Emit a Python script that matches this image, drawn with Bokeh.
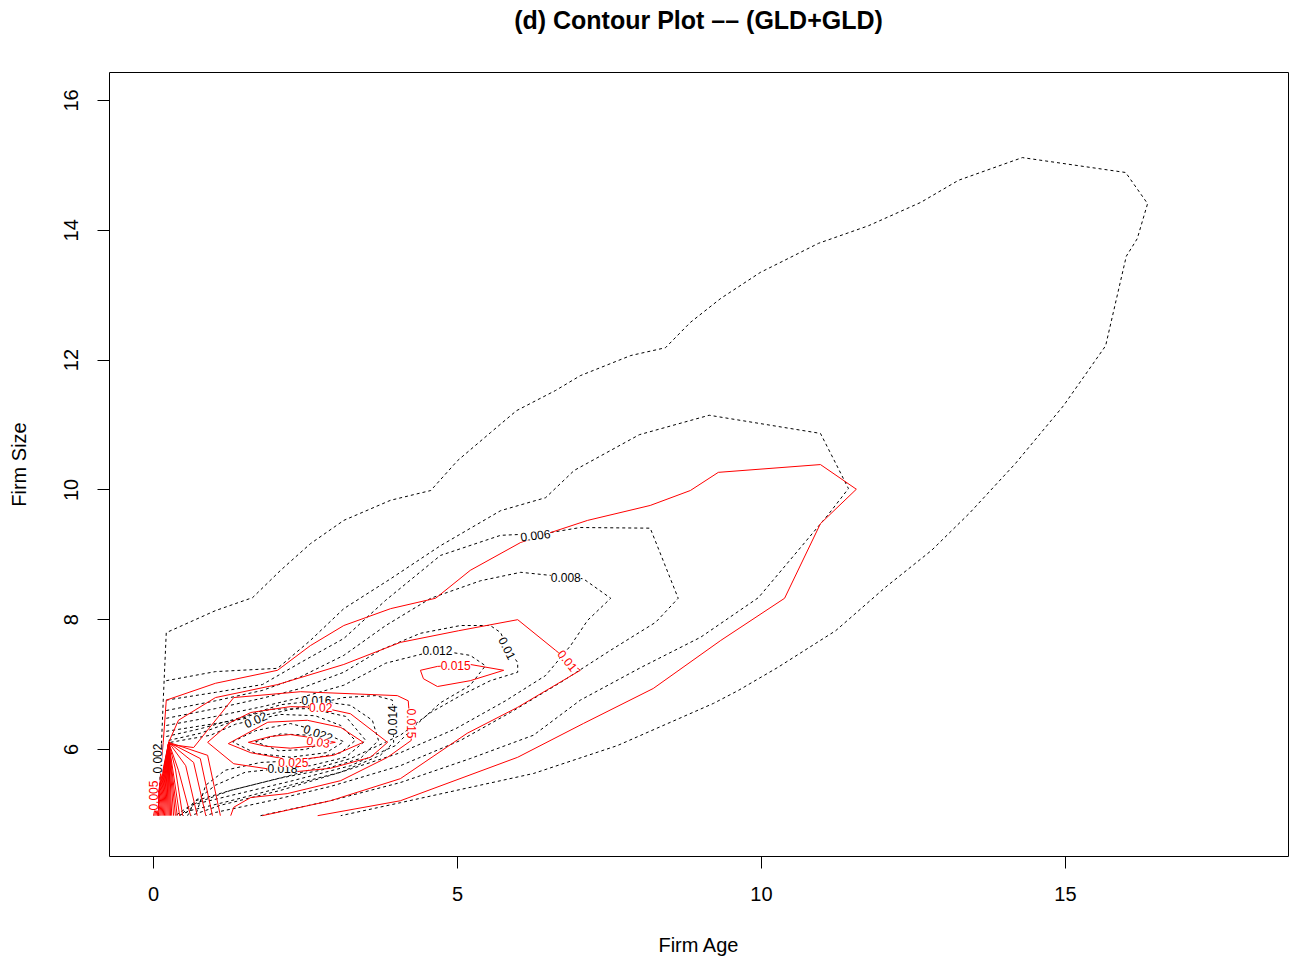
from bokeh.plotting import figure
from bokeh.models import Range1d, FixedTicker, Div
from bokeh.layouts import column
from bokeh.embed import file_html
from bokeh.resources import INLINE
from bokeh.core.properties import value

FONT = "Liberation Sans"

# ---------------- black dashed contours (empirical density) ----------------
b002_x = [0.08, 0.12, 0.16, 0.21, 1.02, 1.63, 2.09, 2.58, 3.13, 3.90, 4.56, 5.00, 5.54, 5.97, 6.61, 7.02, 7.85, 8.42, 8.83, 9.33, 9.98, 10.94, 11.76, 12.62, 13.24, 14.29, 15.99, 16.35, 16.18, 16.00, 15.66, 14.97, 14.18, 13.42, 12.80, 12.04, 11.22, 10.26, 9.62, 9.21, 7.63, 6.25, 4.06, 3.08]
b002_y = [4.98, 5.83, 6.75, 7.80, 8.14, 8.34, 8.76, 9.17, 9.53, 9.84, 9.99, 10.45, 10.88, 11.22, 11.53, 11.76, 12.07, 12.19, 12.58, 12.95, 13.35, 13.80, 14.07, 14.43, 14.77, 15.12, 14.89, 14.41, 13.87, 13.60, 12.22, 11.30, 10.41, 9.64, 9.07, 8.50, 7.83, 7.26, 6.91, 6.71, 6.06, 5.63, 5.18, 4.98]

b004_x = [0.21, 1.02, 2.04, 2.58, 3.13, 3.90, 4.72, 5.71, 6.45, 6.92, 7.99, 9.14, 10.97, 11.22, 11.43, 11.09, 9.95, 9.00, 8.01, 7.02, 6.25, 5.21, 4.06, 2.91, 1.76]
b004_y = [7.06, 7.20, 7.25, 7.68, 8.17, 8.63, 9.14, 9.68, 9.88, 10.30, 10.85, 11.15, 10.87, 10.41, 10.02, 9.61, 8.34, 7.73, 7.26, 6.76, 6.22, 5.86, 5.49, 5.21, 4.98]

b006_x = [0.21, 1.02, 1.79, 2.42, 3.13, 3.82, 4.72, 5.71, 6.45, 7.02, 8.17, 8.63, 8.26, 7.52, 6.69, 5.87, 5.05, 4.06, 2.91, 1.92, 1.02, 0.86]
b006_y = [6.76, 6.88, 7.00, 7.34, 7.71, 8.30, 8.99, 9.30, 9.33, 9.42, 9.41, 8.33, 7.96, 7.53, 7.03, 6.57, 6.14, 5.75, 5.43, 5.21, 5.03, 4.98]

b008_x = [0.21, 1.02, 1.79, 2.42, 3.13, 3.82, 4.56, 5.38, 6.04, 7.07, 7.52, 7.14, 6.86, 6.45, 5.79, 4.97, 4.06, 3.08, 2.09, 1.10, 0.61]
b008_y = [6.60, 6.75, 6.91, 7.12, 7.45, 7.91, 8.33, 8.60, 8.73, 8.63, 8.33, 7.99, 7.60, 7.14, 6.75, 6.32, 5.95, 5.65, 5.37, 5.14, 4.98]

b010_x = [0.21, 1.02, 1.79, 2.42, 3.13, 3.73, 4.39, 5.05, 5.54, 5.71, 5.82, 5.99, 5.99, 5.54, 5.05, 4.56, 4.06, 3.24, 2.25, 1.27, 0.69, 0.44]
b010_y = [6.48, 6.63, 6.79, 6.94, 7.19, 7.53, 7.79, 7.91, 7.91, 7.80, 7.56, 7.34, 7.19, 7.06, 6.83, 6.57, 6.22, 5.86, 5.60, 5.37, 5.21, 4.98]

b012_x = [0.21, 1.02, 1.79, 2.42, 3.13, 3.82, 4.67, 5.21, 5.46, 5.21, 4.72, 4.31, 3.98, 3.24, 2.25, 1.27, 0.61, 0.36]
b012_y = [6.37, 6.51, 6.66, 6.80, 6.99, 7.33, 7.53, 7.45, 7.29, 6.99, 6.72, 6.37, 6.06, 5.75, 5.51, 5.29, 5.14, 4.98]

b014_x = [0.21, 1.02, 1.79, 2.42, 3.13, 3.65, 3.93, 3.95, 3.73, 3.08, 2.25, 1.27, 0.61, 0.41]
b014_y = [6.28, 6.40, 6.52, 6.65, 6.80, 6.83, 6.76, 6.11, 5.91, 5.65, 5.45, 5.21, 5.06, 4.98]

b016_x = [0.21, 0.77, 1.43, 2.09, 2.68, 3.24, 3.60, 3.70, 3.40, 2.75, 2.09, 1.27, 0.69, 0.49]
b016_y = [6.20, 6.32, 6.49, 6.69, 6.75, 6.68, 6.45, 6.14, 5.86, 5.68, 5.56, 5.37, 5.17, 4.98]

b018_x = [0.25, 0.77, 1.35, 1.92, 2.58, 3.16, 3.49, 3.16, 2.58, 2.12, 1.51, 1.02, 0.69, 0.56]
b018_y = [6.14, 6.25, 6.45, 6.62, 6.63, 6.51, 6.14, 5.88, 5.75, 5.71, 5.65, 5.45, 5.21, 4.98]

b020_x = [0.28, 0.94, 1.35, 1.68, 2.09, 2.66, 3.08, 3.32, 3.08, 2.42, 1.76, 1.18, 0.86, 0.69]
b020_y = [6.11, 6.22, 6.39, 6.46, 6.54, 6.52, 6.37, 6.14, 5.95, 5.83, 5.80, 5.68, 5.45, 4.98]

b022_x = [1.30, 1.68, 2.25, 2.71, 3.13, 2.84, 2.25, 1.68, 1.30]
b022_y = [6.12, 6.29, 6.40, 6.29, 6.12, 5.95, 5.88, 5.94, 6.12]

b024_x = [1.68, 2.09, 2.55, 2.83, 2.50, 2.06, 1.68]
b024_y = [6.12, 6.24, 6.22, 6.11, 6.00, 5.98, 6.12]

black_xs = [b002_x, b004_x, b006_x, b008_x, b010_x, b012_x, b014_x, b016_x, b018_x, b020_x, b022_x, b024_x]
black_ys = [b002_y, b004_y, b006_y, b008_y, b010_y, b012_y, b014_y, b016_y, b018_y, b020_y, b022_y, b024_y]

# ---------------- red solid contours (GLD+GLD fitted density) ----------------
r005_x = [0.07, 0.12, 0.16, 0.21, 1.02, 2.04, 2.58, 3.13, 3.90, 4.64, 5.21, 6.04, 7.14, 8.17, 8.83, 9.29, 10.97, 11.56, 10.97, 10.38, 9.33, 8.22, 7.07, 5.99, 4.06, 2.70]
r005_y = [4.98, 5.68, 6.11, 6.76, 7.02, 7.22, 7.60, 7.91, 8.17, 8.33, 8.76, 9.19, 9.53, 9.76, 9.99, 10.27, 10.39, 10.01, 9.48, 8.33, 7.68, 6.94, 6.40, 5.88, 5.21, 4.98]

r010_x = [0.25, 0.41, 1.02, 2.04, 3.13, 4.06, 5.02, 5.99, 6.61, 7.02, 5.99, 5.16, 4.06, 2.91, 1.79]
r010_y = [6.11, 6.45, 6.80, 7.00, 7.31, 7.65, 7.83, 8.00, 7.53, 7.22, 6.65, 6.25, 5.55, 5.21, 4.98]

r015_x = [0.25, 0.66, 1.32, 2.42, 4.01, 4.19, 4.24, 3.85, 3.08, 2.20, 1.60, 1.32, 1.27]
r015_y = [6.08, 6.03, 6.80, 6.89, 6.83, 6.75, 6.14, 5.88, 5.52, 5.32, 5.26, 5.11, 4.98]

r015b_x = [4.39, 4.67, 5.21, 5.76, 5.21, 4.67, 4.44, 4.39]
r015b_y = [7.22, 7.28, 7.31, 7.22, 7.06, 6.97, 7.09, 7.22]

r020_x = [0.89, 1.27, 1.60, 2.25, 2.75, 3.24, 3.85, 3.57, 2.91, 2.25, 1.32, 0.89]
r020_y = [6.11, 6.42, 6.57, 6.66, 6.65, 6.55, 6.11, 5.88, 5.71, 5.65, 5.78, 6.11]

r025_x = [1.23, 1.88, 2.53, 3.08, 3.45, 2.96, 2.30, 1.60, 1.23]
r025_y = [6.09, 6.42, 6.45, 6.34, 6.11, 5.91, 5.83, 5.95, 6.09]

r030_x = [1.56, 1.92, 2.25, 2.62, 2.99, 2.62, 2.25, 1.84, 1.56]
r030_y = [6.11, 6.20, 6.23, 6.18, 6.11, 6.05, 6.02, 6.05, 6.11]

red_xs = [r005_x, r010_x, r015_x, r015b_x, r020_x, r025_x, r030_x]
red_ys = [r005_y, r010_y, r015_y, r015b_y, r020_y, r025_y, r030_y]

# fan of high red levels converging near the origin
fan_apex_x = 0.25
fan_apex_y = 6.11
fan_bottom_x = [0.00, 0.02, 0.04, 0.06, 0.08, 0.10, 0.12, 0.14, 0.16, 0.18, 0.20, 0.22, 0.24, 0.26, 0.28, 0.30, 0.33, 0.36, 0.39, 0.43, 0.48, 0.61, 0.72, 0.86, 0.97, 1.10]
fan_mid_x = [None] * 20 + [0.36, 0.41, 0.53, 0.66, 0.77, 0.89]
fan_mid_y = [None] * 20 + [5.70, 5.68, 5.75, 5.80, 5.86, 5.91]
fan_bottom_y = 4.98

# ---------------- contour labels ----------------
black_lab = ["0.002", "0.006", "0.008", "0.01", "0.012", "0.014", "0.016", "0.018", "0.02", "0.022"]
black_lab_x = [0.07, 6.28, 6.78, 5.82, 4.67, 3.93, 2.68, 2.12, 1.68, 2.71]
black_lab_y = [5.86, 9.30, 8.65, 7.56, 7.53, 6.45, 6.75, 5.71, 6.46, 6.25]
black_lab_ang = [1.5708, 0.12, 0.0, -1.1, 0.0, 1.5708, 0.0, 0.0, 0.42, -0.35]

red_lab = ["0.005", "0.01", "0.015", "0.015", "0.02", "0.025", "0.03"]
red_lab_x = [0.00, 6.81, 4.97, 4.24, 2.75, 2.30, 2.71]
red_lab_y = [5.29, 7.37, 7.29, 6.40, 6.65, 5.80, 6.12]
red_lab_ang = [1.5708, -0.9, 0.0, -1.5708, 0.0, 0.0, -0.15]

x_ticks = [0, 5, 10, 15]
y_ticks = [6, 8, 10, 12, 14, 16]
title_text = "(d) Contour Plot \u2013\u2013 (GLD+GLD)"

# ---------------- title (HTML text above the figure) ----------------
title_div = Div(
    text=('<div style="width:1179px;margin-left:109px;text-align:center;'
          'font-family:\'Liberation Sans\',Arial,sans-serif;font-weight:bold;'
          'font-size:25px;line-height:40px;color:black;white-space:nowrap;">'
          + title_text + '</div>'),
    width=1295, height=70, margin=(0, 0, 0, 0))

# ---------------- figure ----------------
FW, FH = 1179, 784
p = figure(frame_width=FW, frame_height=FH,
           x_range=Range1d(-0.7237, 18.668), y_range=Range1d(4.351, 16.431),
           output_backend="svg", toolbar_location=None,
           min_border_left=109, min_border_right=7, min_border_top=2, min_border_bottom=101,
           margin=(0, 0, 0, 0))
p.background_fill_color = "white"
p.border_fill_color = "white"
p.outline_line_color = "black"
p.outline_line_width = 1
p.grid.visible = False

p.xaxis.ticker = FixedTicker(ticks=x_ticks)
p.yaxis.ticker = FixedTicker(ticks=y_ticks)
for ax in (p.xaxis, p.yaxis):
    ax.axis_line_color = None
    ax.major_tick_out = 12
    ax.major_tick_in = 0
    ax.minor_tick_out = 0
    ax.minor_tick_in = 0
    ax.major_tick_line_color = "black"
    ax.major_label_text_font = FONT
    ax.major_label_text_font_size = "20px"
    ax.major_label_text_color = "black"
    ax.axis_label_text_font = FONT
    ax.axis_label_text_font_size = "20px"
    ax.axis_label_text_font_style = "normal"
    ax.axis_label_text_color = "black"
p.xaxis.axis_label = "Firm Age"
p.yaxis.axis_label = "Firm Size"
p.xaxis.major_label_standoff = 18
p.yaxis.major_label_standoff = 19
p.yaxis.major_label_orientation = "vertical"
p.xaxis.axis_label_standoff = 30
p.yaxis.axis_label_standoff = 32

p.multi_line(xs=black_xs, ys=black_ys, line_color="black", line_width=1, line_dash="3 3")
p.multi_line(xs=red_xs, ys=red_ys, line_color="#FF0000", line_width=1)

fan_xs, fan_ys = [], []
for bx, mx, my in zip(fan_bottom_x, fan_mid_x, fan_mid_y):
    if mx is None:
        fan_xs.append([fan_apex_x, bx])
        fan_ys.append([fan_apex_y, fan_bottom_y])
    else:
        fan_xs.append([fan_apex_x, mx, bx])
        fan_ys.append([fan_apex_y, my, fan_bottom_y])
p.multi_line(xs=fan_xs, ys=fan_ys, line_color="#FF0000", line_width=1)

p.text(x=black_lab_x, y=black_lab_y, text=black_lab, angle=black_lab_ang,
       text_font=value(FONT), text_font_size="12px", text_color="black",
       text_align="center", text_baseline="middle", background_fill_color="white")
p.text(x=red_lab_x, y=red_lab_y, text=red_lab, angle=red_lab_ang,
       text_font=value(FONT), text_font_size="12px", text_color="#FF0000",
       text_align="center", text_baseline="middle", background_fill_color="white")

layout = column(title_div, p, spacing=0, margin=(0, 0, 0, 0))
open("out.html", "w").write(file_html(layout, INLINE))
